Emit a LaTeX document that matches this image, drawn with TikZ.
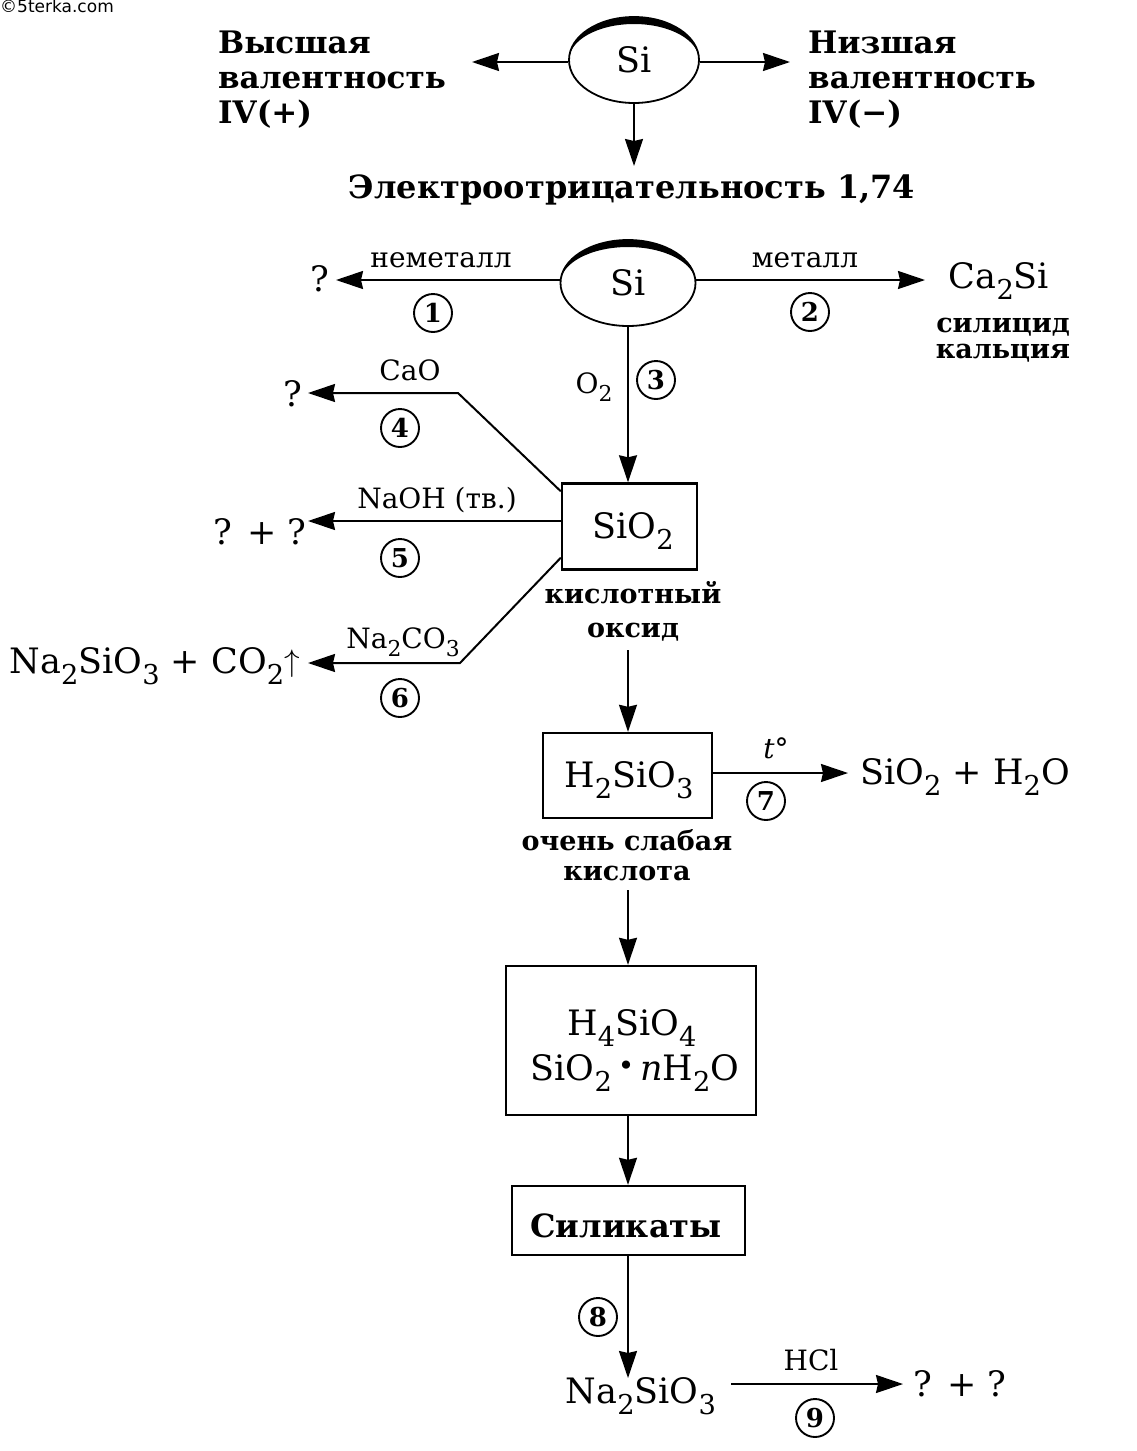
\documentclass[tikz,border=0pt]{standalone}
\usepackage{fontspec}
\usepackage{graphicx}
\setmainfont{DejaVu Serif}
\newfontfamily\wmfont{DejaVu Sans}
\usetikzlibrary{arrows.meta,shapes.geometric}
\newcommand\ssb[1]{\raisebox{-0.32em}{\scalebox{0.78}{#1}}}
\newcommand\fsz[1]{\fontsize{#1}{#1}\selectfont}
\tikzset{
  ar/.style={line width=2pt,-{Stealth[length=27pt,width=18pt,inset=2pt]}},
  boxn/.style={draw,line width=2.4pt,rectangle,inner sep=0pt},
  frm/.style={font=\fsz{35},inner sep=0pt,anchor=base},
  capt/.style={font=\bfseries\fsz{27},inner sep=0pt,anchor=base},
  hcap/.style={font=\bfseries\fsz{31},inner sep=0pt,anchor=base west},
  lab/.style={font=\fsz{28},inner sep=0pt,anchor=base},
  num/.style={draw,circle,line width=1.9pt,minimum size=38pt,inner sep=0pt,font=\bfseries\fsz{26}},
  elli/.style={draw,ellipse,line width=1.8pt,inner sep=0pt,font=\fsz{35}},
}
\begin{document}
\begin{tikzpicture}[x=1pt,y=-1pt]
\useasboundingbox (0,0) rectangle (1136,1451);
% watermark
\node[anchor=north west,inner sep=0pt,font=\wmfont\fsz{17}] (wm) at (0,-1) {©5terka.com};
% ---- top Si ----
\node[elli,minimum width=130pt,minimum height=86pt] (si1) at (634,60) {Si};
\fill (si1.center) ++(180:65 and 43) arc[start angle=180,end angle=360,x radius=65,y radius=43]
      arc[start angle=360,end angle=180,x radius=65,y radius=36] -- cycle;
\node[hcap] (h1) at (218,53) {Высшая};
\node[hcap] (h2) at (218,88) {валентность};
\node[hcap] (h3) at (218,123) {IV(+)};
\node[hcap] (l1) at (808,53) {Низшая};
\node[hcap] (l2) at (808,88) {валентность};
\node[hcap] (l3) at (808,123) {IV(−)};
\node[capt,font=\bfseries\fsz{32}] (el) at (632,198) {Электроотрицательность 1,74};
\coordinate (tL) at (472,62);
\coordinate (tR) at (790,62);
\draw[ar] (si1.west |- tL) -- (tL);
\draw[ar] (si1.east |- tR) -- (tR);
\draw[ar] (si1.south) -- (si1.south |- 0,166);
% ---- second Si ----
\node[elli,minimum width=135pt,minimum height=86pt] (si2) at (628,283) {Si};
\fill (si2.center) ++(180:67.5 and 43) arc[start angle=180,end angle=360,x radius=67.5,y radius=43]
      arc[start angle=360,end angle=180,x radius=67.5,y radius=36] -- cycle;
\node[frm] (q1) at (320,291) {?};
\node[lab] (nm) at (441,267) {неметалл};
\node[num] (n1) at (433,313) {1};
\coordinate (t1) at (336,280);
\draw[ar] (si2.west |- t1) -- (t1);
\node[lab] (mt) at (805,267) {металл};
\node[num] (n2) at (810,312) {2};
\node[frm] (ca) at (999,288) {Ca\ssb{2}Si};
\node[capt] (sil1) at (1003,332) {силицид};
\node[capt] (sil2) at (1003,358) {кальция};
\coordinate (t2) at (925,280);
\draw[ar] (si2.east |- t2) -- (t2);
% ---- SiO2 ----
\node[boxn,minimum width=135pt,minimum height=86pt] (sio2) at (629.5,526.5) {};
\node[frm] (sio2t) at (633,538) {SiO\ssb{2}};
\node[lab] (o2) at (594,393) {O\ssb{2}};
\node[num] (n3) at (656,380) {3};
\draw[ar] (si2.south) -- (si2.south |- sio2.north);
\node[capt] (k1) at (633,603) {кислотный};
\node[capt] (k2) at (633,637) {оксид};
% branch 4
\node[frm] (q4) at (293,406) {?};
\node[lab] (cao) at (410,380) {CaO};
\node[num] (n4) at (400,428) {4};
\coordinate (c4) at (458,393);
\coordinate (t4) at (308,393);
\draw[ar] ([yshift=-9pt]sio2.north west) -- (c4) -- (t4);
% branch 5
\node[frm] (q5) at (260,544) {? + ?};
\node[lab] (naoh) at (437,508) {NaOH (тв.)};
\node[num] (n5) at (400,558) {5};
\coordinate (t5) at (308,521);
\draw[ar] (sio2.west |- t5) -- (t5);
% branch 6
\node[frm,anchor=base east] (p6) at (300,673) {Na\ssb{2}SiO\ssb{3} + CO\ssb{2}\raisebox{0.05em}{\scalebox{1.25}{$\uparrow$}}};
\node[lab] (naco) at (403,648) {Na\ssb{2}CO\ssb{3}};
\node[num] (n6) at (400,698) {6};
\coordinate (c6) at (460,663);
\coordinate (t6) at (308,663);
\draw[ar] ([yshift=13pt]sio2.south west) -- (c6) -- (t6);
% ---- H2SiO3 ----
\node[boxn,minimum width=169pt,minimum height=85pt] (h2s) at (627.5,775.5) {};
\node[frm] (h2st) at (629,787) {H\ssb{2}SiO\ssb{3}};
\coordinate (a1) at (628,650);
\draw[ar] (a1) -- (a1 |- h2s.north);
\node[lab,font=\itshape\fsz{28}] (tdeg) at (776,758) {t\textup{°}};
\node[num] (n7) at (766,801) {7};
\node[frm] (p7) at (965,784) {SiO\ssb{2} + H\ssb{2}O};
\coordinate (t7) at (848,773);
\draw[ar] (h2s.east |- t7) -- (t7);
\node[capt] (w1) at (627,850) {очень слабая};
\node[capt] (w2) at (627,880) {кислота};
% ---- H4SiO4 ----
\node[boxn,minimum width=250pt,minimum height=149pt] (h4s) at (631,1040.5) {};
\node[frm] (h4t1) at (632,1035) {H\ssb{4}SiO\ssb{4}};
\node[frm] (h4t2) at (635,1080) {SiO\ssb{2}\,\raisebox{0.12em}{\scalebox{0.8}{\textbullet}}\,\textit{n}H\ssb{2}O};
\coordinate (a2) at (628,890);
\draw[ar] (a2) -- (a2 |- h4s.north);
% ---- Silikaty ----
\node[boxn,minimum width=233pt,minimum height=69pt] (silk) at (628.5,1220.5) {};
\node[capt,font=\bfseries\fsz{32}] (silkt) at (626,1237) {Силикаты};
\draw[ar] (a2 |- h4s.south) -- (a2 |- silk.north);
% ---- Na2SiO3 ----
\node[frm] (na) at (641,1403) {Na\ssb{2}SiO\ssb{3}};
\node[num] (n8) at (598,1317) {8};
\coordinate (t8) at (628,1378);
\draw[ar] (t8 |- silk.south) -- (t8);
\node[lab] (hcl) at (811,1370) {HCl};
\node[num] (n9) at (815,1418) {9};
\node[frm] (q9) at (960,1396) {? + ?};
\coordinate (s9) at (731,1384);
\coordinate (t9) at (903,1384);
\draw[ar] (s9) -- (t9);
\end{tikzpicture}
\end{document}
